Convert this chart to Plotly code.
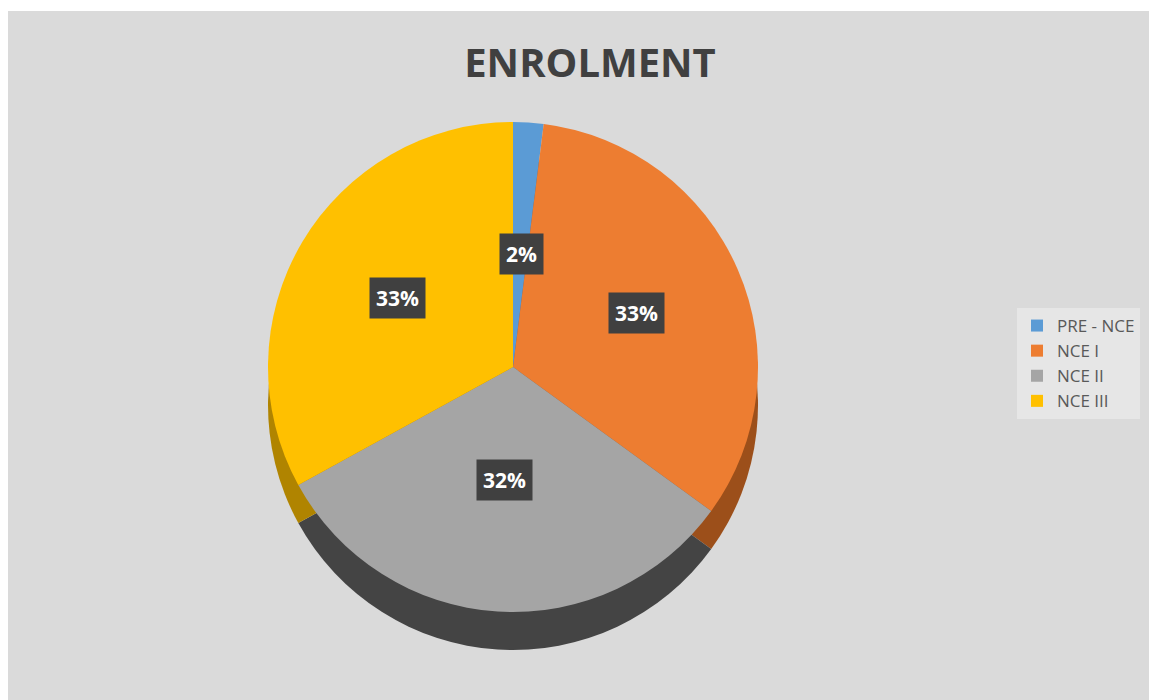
import math
import plotly.graph_objects as go

categories = ["PRE - NCE", "NCE I", "NCE II", "NCE III"]
values = [2, 33, 32, 33]
top_colors = ["#5B9BD5", "#ED7D31", "#A5A5A5", "#FFC000"]
side_colors = ["#3d6f9e", "#9c4f1a", "#444444", "#b08400"]

W, H = 1157, 700
OFF = 8  # page body margin
cx, cy, R, depth = 513 - OFF, 367 - OFF, 245, 38

def dom(cx_px, cy_px, r):
    return dict(x=[(cx_px - r) / W, (cx_px + r) / W],
                y=[(H - cy_px - r) / H, (H - cy_px + r) / H])

fig = go.Figure()
# side (3D depth) pie
fig.add_trace(go.Pie(labels=categories, values=values, sort=False, direction="clockwise",
                     rotation=0, marker=dict(colors=side_colors, line=dict(width=0)),
                     textinfo="none", hoverinfo="skip", showlegend=False,
                     domain=dom(cx, cy + depth, R)))
# top pie
fig.add_trace(go.Pie(labels=categories, values=values, sort=False, direction="clockwise",
                     rotation=0, marker=dict(colors=top_colors, line=dict(width=0)),
                     textinfo="none", domain=dom(cx, cy, R)))

total = sum(values)
cum = 0
for v in values:
    mid = (cum + v / 2) / total * 2 * math.pi
    cum += v
    f = 0.55
    px = cx + f * R * math.sin(mid)
    py = cy - f * R * math.cos(mid)
    fig.add_annotation(x=px / W, y=(H - py) / H, xref="paper", yref="paper",
                       text=f"<b>{round(v / total * 100)}%</b>", showarrow=False,
                       font=dict(family="Open Sans", size=21, color="white"),
                       bgcolor="#404040", borderpad=6)

fig.update_layout(
    width=W, height=H,
    margin=dict(l=0, r=0, t=0, b=0),
    paper_bgcolor="white",
    title=dict(text="<b>ENROLMENT</b>", x=(590 - OFF) / W, xanchor="center",
               y=(H - (63 - OFF)) / H, yanchor="middle",
               font=dict(family="Open Sans", size=40, color="#404040")),
    legend=dict(x=(1017 - OFF) / W, y=(H - (308 - OFF)) / H, xanchor="left", yanchor="top",
                bgcolor="#e6e6e6", font=dict(family="Open Sans", size=17, color="#595959"),
                itemwidth=30),
    shapes=[dict(type="rect", xref="paper", yref="paper", x0=0, x1=1, y0=0, y1=(H - 3) / H,
                 fillcolor="#dadada", line=dict(width=0), layer="below")],
)

fig.write_html("out.html")
